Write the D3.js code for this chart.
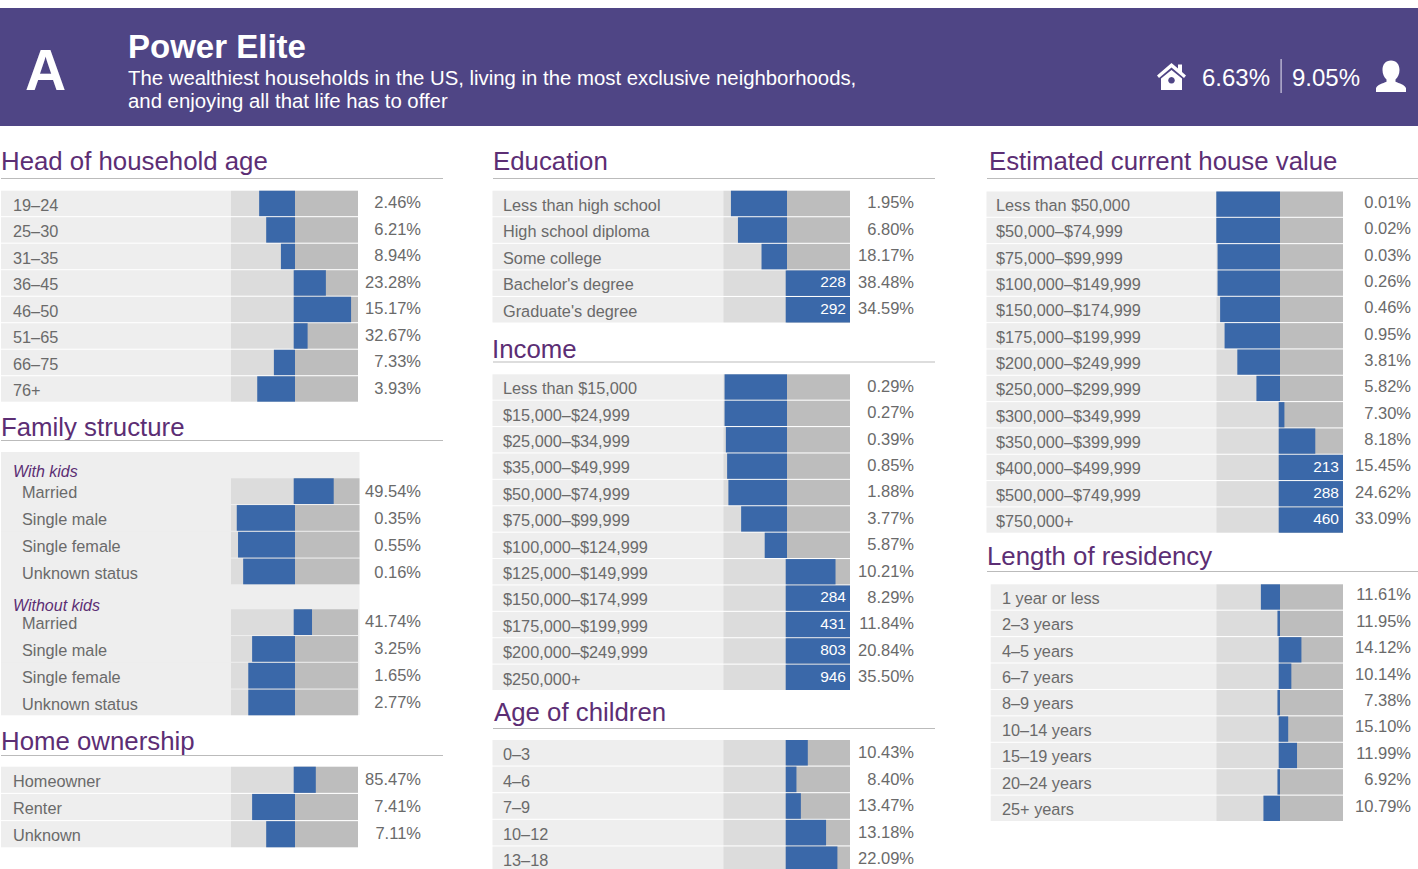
<!DOCTYPE html>
<html><head><meta charset="utf-8">
<script src="https://cdn.jsdelivr.net/npm/d3@7"></script>
<style>
html,body{margin:0;padding:0;background:#fff;overflow:hidden}
svg{display:block}
text{font-family:"Liberation Sans",Arial,sans-serif}
</style></head><body>
<script>
// ---------- data ----------
const ageCats=["19–24","25–30","31–35","36–45","46–50","51–65","66–75","76+"];
const ageIdx=[44,55,78,149,189,120,67,41];
const agePct=["2.46%","6.21%","8.94%","23.28%","15.17%","32.67%","7.33%","3.93%"];
const kidsCats=["Married","Single male","Single female","Unknown status"];
const withKidsIdx=[160,9,11,19];
const withKidsPct=["49.54%","0.35%","0.55%","0.16%"];
const withoutKidsIdx=[127,33,27,27];
const withoutKidsPct=["41.74%","3.25%","1.65%","2.77%"];
const homeCats=["Homeowner","Renter","Unknown"];
const homeIdx=[133,33,55];
const homePct=["85.47%","7.41%","7.11%"];
const eduCats=["Less than high school","High school diploma","Some college","Bachelor's degree","Graduate's degree"];
const eduIdx=[12,23,60,228,292];
const eduPct=["1.95%","6.80%","18.17%","38.48%","34.59%"];
const incCats=["Less than $15,000","$15,000–$24,999","$25,000–$34,999","$35,000–$49,999","$50,000–$74,999","$75,000–$99,999","$100,000–$124,999","$125,000–$149,999","$150,000–$174,999","$175,000–$199,999","$200,000–$249,999","$250,000+"];
const incIdx=[2,2,4,6,8,28,65,177,284,431,803,946];
const incPct=["0.29%","0.27%","0.39%","0.85%","1.88%","3.77%","5.87%","10.21%","8.29%","11.84%","20.84%","35.50%"];
const kidAgeCats=["0–3","4–6","7–9","10–12","13–18"];
const kidAgeIdx=[133,115,122,162,180];
const kidAgePct=["10.43%","8.40%","13.47%","13.18%","22.09%"];
const houseCats=["Less than $50,000","$50,000–$74,999","$75,000–$99,999","$100,000–$149,999","$150,000–$174,999","$175,000–$199,999","$200,000–$249,999","$250,000–$299,999","$300,000–$349,999","$350,000–$399,999","$400,000–$499,999","$500,000–$749,999","$750,000+"];
const houseIdx=[0,0,2,2,6,13,33,63,107,156,213,288,460];
const housePct=["0.01%","0.02%","0.03%","0.26%","0.46%","0.95%","3.81%","5.82%","7.30%","8.18%","15.45%","24.62%","33.09%"];
const resCats=["1 year or less","2–3 years","4–5 years","6–7 years","8–9 years","10–14 years","15–19 years","20–24 years","25+ years"];
const resIdx=[70,96,134,118,96,113,127,96,74];
const resPct=["11.61%","11.95%","14.12%","10.14%","7.38%","15.10%","11.99%","6.92%","10.79%"];

// ---------- layout ----------
const W=1418,H=869;
const C={head:"#4f4585",title:"#5c2e74",text:"#6a6a6a",bg:"#eeeeee",lo:"#dcdcdc",hi:"#bdbdbd",bar:"#3a68a9",rule:"#bbbbbb",pct:"#6a6a6a"};
const svg=d3.select("body").append("svg").attr("width",W).attr("height",H).attr("viewBox",`0 0 ${W} ${H}`);

// header
const hd=svg.append("g");
hd.append("rect").attr("x",0).attr("y",8).attr("width",W).attr("height",118).attr("fill",C.head);
const ht=(s,x,y,size,weight,anchor)=>hd.append("text").text(s).attr("x",x).attr("y",y).attr("font-size",size).attr("font-weight",weight||400).attr("fill","#fff").attr("text-anchor",anchor||"start");
ht("A",25,90,57,700);
ht("Power Elite",128,58,33,700);
ht("The wealthiest households in the US, living in the most exclusive neighborhoods,",128,85,20.35);
ht("and enjoying all that life has to offer",128,108,20.35);
ht("6.63%",1270,86,24,400,"end");
ht("9.05%",1292,86,24);
hd.append("rect").attr("x",1280.5).attr("y",59).attr("width",1.2).attr("height",34).attr("fill","#cfcbe0");
hd.append("path").attr("fill","#fff").attr("fill-rule","evenodd")
  .attr("d","M1171.5 63 L1178 68.5 V64.5 H1182 V72 L1186 75.5 L1184 78 L1171.5 67.5 L1159 78 L1157 75.5 Z M1161 78.5 L1171.5 70 L1182 78.5 V90 H1161 Z M1171.5 77 a3.3 3.3 0 1 0 0.01 0 Z");
hd.append("path").attr("fill","#fff")
  .attr("d","M1391 60.5 c5.5 0 8.5 4 8.5 9.5 c0 4 -1.7 7.5 -4 9.5 v2.2 c3.5 1.5 9.5 3 10.5 6.5 v3.8 h-30 v-3.8 c1 -3.5 7 -5 10.5 -6.5 v-2.2 c-2.3 -2 -4 -5.5 -4 -9.5 c0 -5.5 3 -9.5 8.5 -9.5 Z");

// titles
function title(s,x,y){
  svg.append("text").text(s).attr("x",x).attr("y",y).attr("font-size",25.8).attr("fill",C.title);
}
function rule(x0,x1,y){svg.append("rect").attr("x",x0).attr("y",y).attr("width",x1-x0).attr("height",1).attr("fill",C.rule);}

// one block of rows: all geometry goes through d3 scales
function block(o){
  const y=d3.scaleBand().domain(o.cats).range([o.top,o.bottom]).paddingInner(0.04).paddingOuter(0);
  const x=d3.scaleLinear().domain([0,100,200]).range([o.tl,o.tc,o.tr]).clamp(true);
  const po=o.po===undefined?18:o.po;
  const rows=o.cats.map((c,i)=>({c,v:o.idx[i],p:o.pct[i]}));
  const g=svg.append("g").selectAll("g").data(rows).join("g");
  g.append("rect").attr("x",o.bgx).attr("y",d=>y(d.c)).attr("width",o.tl-o.bgx).attr("height",y.bandwidth()).attr("fill",C.bg);
  g.append("rect").attr("x",x(0)).attr("y",d=>y(d.c)).attr("width",x(100)-x(0)).attr("height",y.bandwidth()).attr("fill",C.lo);
  g.append("rect").attr("x",x(100)).attr("y",d=>y(d.c)).attr("width",x(200)-x(100)).attr("height",y.bandwidth()).attr("fill",C.hi);
  g.append("rect").attr("x",d=>d.v<100?x(d.v):x(100)-1.3)
    .attr("y",d=>y(d.c)).attr("height",y.bandwidth())
    .attr("width",d=>d.v<100?x(100)-x(d.v):x(d.v)-x(100)+1.3).attr("fill",C.bar);
  g.append("text").text(d=>d.c).attr("x",o.lx).attr("y",d=>y(d.c)+(o.lo===undefined?20:o.lo)).attr("font-size",16.3).attr("fill",C.text);
  g.append("text").text(d=>d.p).attr("x",o.px).attr("y",d=>y(d.c)+po).attr("font-size",16.5).attr("fill",C.pct).attr("text-anchor","end");
  g.filter(d=>d.v>200).append("text").text(d=>d.v).attr("x",o.tr-4).attr("y",d=>y(d.c)+17).attr("font-size",15.5).attr("fill","#fff").attr("text-anchor","end");
}

const P1={tl:231,tc:295,tr:358,px:421,bgx:1};
const P2={tl:723.3,tc:787,tr:850,px:914,bgx:492.5};
const P3={tl:1216.3,tc:1280,tr:1343,px:1411,bgx:986.5};

// left column
title("Head of household age",1,169.5); rule(1,443,178);
block({...P1,cats:ageCats,idx:ageIdx,pct:agePct,top:190.7,bottom:401.7,lx:13,po:17.5});
title("Family structure",1,436); rule(1,443,440);
svg.append("rect").attr("x",1).attr("y",452).attr("width",358.5).attr("height",263).attr("fill",C.bg);
block({...P1,tr:359.5,cats:kidsCats,idx:withKidsIdx,pct:withKidsPct,top:478.3,bottom:584.3,lx:22,po:19});
block({...P1,cats:kidsCats,idx:withoutKidsIdx,pct:withoutKidsPct,top:609.3,bottom:715.3,lx:22});
[["With kids",476.5],["Without kids",610.5]].forEach(([s,y])=>svg.append("text").text(s).attr("x",13).attr("y",y).attr("font-size",16).attr("font-style","italic").attr("fill",C.title));
title("Home ownership",1,750); rule(1,443,755);
block({...P1,cats:homeCats,idx:homeIdx,pct:homePct,top:766.7,bottom:847.3,lx:13});

// middle column
title("Education",493,169.5); rule(493,935,178);
block({...P2,cats:eduCats,idx:eduIdx,pct:eduPct,top:190.7,bottom:322.5,lx:503,po:17.5});
title("Income",492,358); rule(493,935,361.5);
block({...P2,cats:incCats,idx:incIdx,pct:incPct,top:374.3,bottom:690,lx:503,po:17.5});
title("Age of children",494,721); rule(493,935,728);
block({...P2,cats:kidAgeCats,idx:kidAgeIdx,pct:kidAgePct,top:740,bottom:872,lx:503});

// right column
title("Estimated current house value",989,169.5); rule(987,1418,178);
block({...P3,cats:houseCats,idx:houseIdx,pct:housePct,top:191.5,bottom:532.7,lx:996,po:16.5,lo:19.5});
title("Length of residency",987,565); rule(987,1418,571);
block({...P3,bgx:990.7,cats:resCats,idx:resIdx,pct:resPct,top:584.3,bottom:821,lx:1002,po:16,lo:19.5});
</script>
</body></html>
